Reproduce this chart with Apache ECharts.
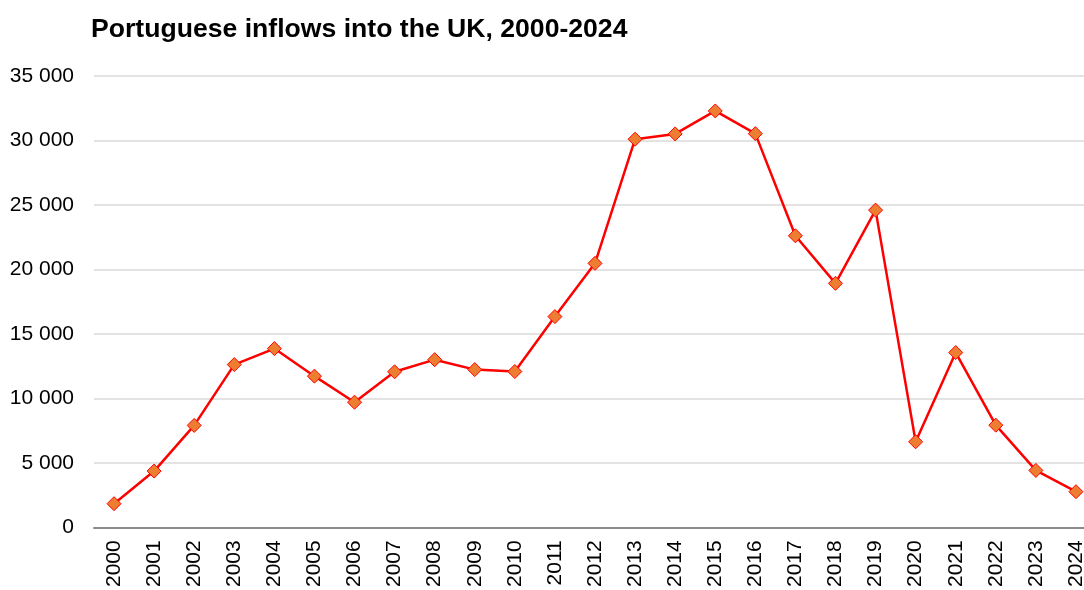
<!DOCTYPE html>
<html><head><meta charset="utf-8">
<script src="https://cdn.jsdelivr.net/npm/echarts@6/dist/echarts.min.js"></script>
<style>html,body{margin:0;padding:0;background:#fff;overflow:hidden}#c{width:1100px;height:590px}</style>
</head><body><div id="c"></div>
<script>
const years = ['2000','2001','2002','2003','2004','2005','2006','2007','2008','2009','2010','2011','2012','2013','2014','2015','2016','2017','2018','2019','2020','2021','2022','2023','2024'];
const inflows = [1830,4360,7900,12620,13860,11720,9700,12060,13000,12230,12080,16340,20470,30100,30510,32290,30530,22610,18920,24600,6630,13550,7920,4410,2760];
const titleText = 'Portuguese inflows into the UK, 2000-2024';

const chart = echarts.init(document.getElementById('c'));
chart.setOption({
  animation: false,
  title: {text: titleText, left: 91, top: 16, padding: 0, textStyle: {fontFamily: 'Liberation Sans, Arial', fontSize: 26.6, fontWeight: 'bold', color: '#000'}},
  grid: {left: 94, right: 4, top: 76, bottom: 62, containLabel: false},
  xAxis: {
    type: 'category', data: years, boundaryGap: true,
    axisLine: {lineStyle: {color: '#8c8c8c', width: 2}},
    axisTick: {show: false},
    axisLabel: {interval: 0, rotate: 90, margin: 13, fontFamily: 'Liberation Sans, Arial', fontSize: 21, color: '#000'}
  },
  yAxis: {
    type: 'value', min: 0, max: 35000, interval: 5000,
    axisLine: {show: false}, axisTick: {show: false},
    splitLine: {lineStyle: {color: '#e3e3e3', width: 2}},
    axisLabel: {margin: 20, fontFamily: 'Liberation Sans, Arial', fontSize: 21, color: '#000',
      formatter: v => String(v).replace(/\B(?=(\d{3})+(?!\d))/g, ' ')}
  },
  series: [{
    type: 'line', data: inflows,
    lineStyle: {color: '#ff0000', width: 2.5},
    symbol: 'diamond', symbolSize: 14,
    itemStyle: {color: '#ed7d31', borderColor: '#ff0000', borderWidth: 1}
  }]
});
</script></body></html>
